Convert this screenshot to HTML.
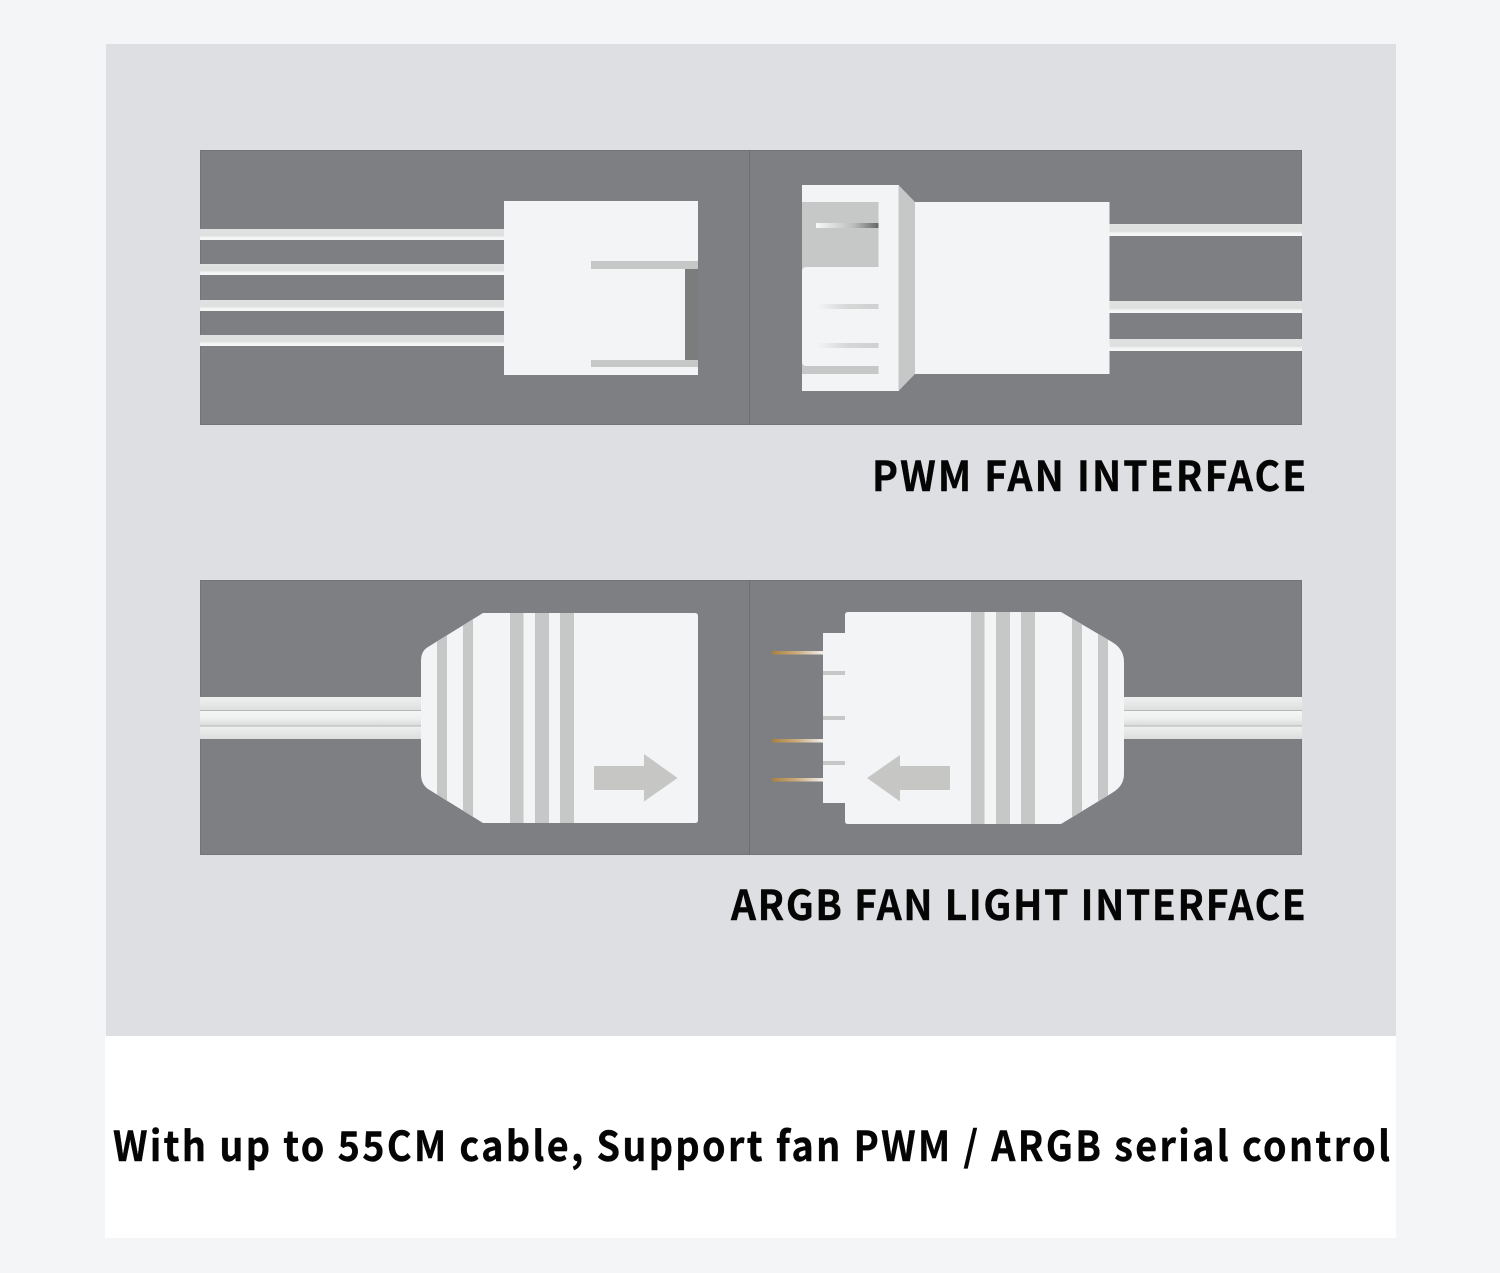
<!DOCTYPE html>
<html><head><meta charset="utf-8"><style>
html,body{margin:0;padding:0;background:#f4f5f7}
svg{display:block}
text{font-family:"Noto Sans CJK SC","Liberation Sans",sans-serif;font-weight:700;fill:#050505;stroke:#050505;stroke-width:.4}
</style></head><body>
<svg xmlns="http://www.w3.org/2000/svg" width="1500" height="1273" viewBox="0 0 1500 1273">
<defs>
<linearGradient id="wire" x1="0" y1="0" x2="0" y2="1"><stop offset="0" stop-color="#e0e1e1"/><stop offset=".6" stop-color="#dedfdf"/><stop offset=".75" stop-color="#f2f3f3"/><stop offset="1" stop-color="#f6f7f7"/></linearGradient>
<linearGradient id="wire2" x1="0" y1="0" x2="0" y2="1"><stop offset="0" stop-color="#eeefef"/><stop offset=".5" stop-color="#e6e7e7"/><stop offset="1" stop-color="#dcdddd"/></linearGradient>
<linearGradient id="wire3" x1="0" y1="0" x2="0" y2="1"><stop offset="0" stop-color="#f5f6f6"/><stop offset=".5" stop-color="#eeefef"/><stop offset="1" stop-color="#d8d9d9"/></linearGradient>
<linearGradient id="pin" x1="0" y1="0" x2="1" y2="0"><stop offset="0" stop-color="#a9823f"/><stop offset=".45" stop-color="#c9a878"/><stop offset="1" stop-color="#f0eeea"/></linearGradient>
<linearGradient id="pinDark" x1="0" y1="0" x2="1" y2="0"><stop offset="0" stop-color="#f8f8f8"/><stop offset=".6" stop-color="#bdbdbd"/><stop offset="1" stop-color="#666"/></linearGradient>
<linearGradient id="pinLight" x1="0" y1="0" x2="1" y2="0"><stop offset="0" stop-color="#f4f5f7"/><stop offset=".5" stop-color="#d6d7d7"/><stop offset="1" stop-color="#cfd0d0"/></linearGradient>
<clipPath id="bodyL"><path d="M483 613H695Q698 613 698 616V820Q698 823 695 823H483L428 789Q421 784 421 774V661Q421 651 428 647Z"/></clipPath>
<clipPath id="bodyR"><path d="M848 612H1061L1112 642Q1124 649 1124 662V774Q1124 786 1112 793L1061 824H848Q845 824 845 821V615Q845 612 848 612Z"/></clipPath>
</defs>
<rect x="105" y="1036" width="1291" height="202" fill="#fff"/>
<rect x="106" y="44" width="1290" height="992" fill="#dedfe2"/>

<!-- PWM panel -->
<rect x="200.500" y="150.500" width="1101" height="274" fill="#7e7f83" stroke="#737478"/>
<rect x="749" y="150" width="1" height="275" fill="#6d6e71"/>
<g fill="url(#wire)">
<rect x="200" y="229" width="305" height="11"/>
<rect x="200" y="264" width="305" height="11"/>
<rect x="200" y="300" width="305" height="11"/>
<rect x="200" y="335" width="305" height="11"/>
</g>
<rect x="504" y="201" width="194" height="174" fill="#f3f4f6"/>
<rect x="685" y="269" width="13" height="91" fill="#7b7c7c"/>
<rect x="591" y="261" width="107" height="8" fill="#c6c7c7"/>
<rect x="591" y="360" width="107" height="7" fill="#c6c7c7"/>

<g fill="url(#wire)">
<rect x="1109" y="224" width="193" height="12"/>
<rect x="1109" y="301" width="193" height="12"/>
<rect x="1109" y="339" width="193" height="12"/>
</g>
<rect x="802" y="185" width="97" height="206" fill="#f3f4f6"/>
<polygon points="898.5,185 915,202 915,374 898.5,391" fill="#c6c7c7"/>
<rect x="915" y="202" width="194.500" height="172" fill="#f3f4f6"/>
<rect x="802" y="202" width="76.500" height="172" fill="#c6c7c7"/>
<rect x="802" y="267" width="76.500" height="99" rx="4" fill="#f3f4f6"/>
<rect x="812" y="267" width="66.500" height="99" fill="#f3f4f6"/>
<rect x="816" y="223" width="62.500" height="5" fill="url(#pinDark)"/>
<rect x="816" y="304" width="62.500" height="5" fill="url(#pinLight)"/>
<rect x="816" y="343" width="62.500" height="5" fill="url(#pinLight)"/>

<!-- ARGB panel -->
<rect x="200.500" y="580.500" width="1101" height="274" fill="#7e7f83" stroke="#737478"/>
<rect x="749" y="580" width="1" height="275" fill="#6d6e71"/>

<rect x="200" y="697" width="222" height="14" fill="url(#wire2)"/>
<rect x="200" y="711" width="222" height="15" fill="url(#wire3)"/>
<rect x="200" y="726" width="222" height="13" fill="url(#wire2)"/>
<rect x="200" y="710" width="222" height="1" fill="#b5b6b6"/>
<rect x="200" y="725.500" width="222" height="1" fill="#b5b6b6"/>
<path d="M483 613H695Q698 613 698 616V820Q698 823 695 823H483L428 789Q421 784 421 774V661Q421 651 428 647Z" fill="#f3f4f6"/>
<g clip-path="url(#bodyL)" fill="#c6c7c7">
<rect x="437" y="600" width="10" height="240"/>
<rect x="463" y="600" width="10" height="240"/>
<rect x="510" y="600" width="13.500" height="240"/>
<rect x="535" y="600" width="14" height="240"/>
<rect x="560" y="600" width="14" height="240"/>
</g>
<polygon points="594,766 644,766 644,754 677.500,778 644,801.500 644,790 594,790" fill="#c6c7c5"/>

<rect x="1124" y="697" width="178" height="14" fill="url(#wire2)"/>
<rect x="1124" y="711" width="178" height="15" fill="url(#wire3)"/>
<rect x="1124" y="726" width="178" height="13" fill="url(#wire2)"/>
<rect x="1124" y="710" width="178" height="1" fill="#b5b6b6"/>
<rect x="1124" y="725.500" width="178" height="1" fill="#b5b6b6"/>
<g fill="url(#pin)">
<rect x="772" y="651" width="51" height="3.500"/>
<rect x="772" y="739" width="51" height="3.500"/>
<rect x="772" y="778" width="51" height="3.500"/>
</g>
<rect x="823" y="633" width="23" height="170" fill="#f3f4f6"/>
<rect x="823" y="671" width="22" height="4" fill="#c6c7c7"/>
<rect x="823" y="716" width="22" height="4" fill="#c6c7c7"/>
<rect x="823" y="761" width="22" height="4" fill="#c6c7c7"/>
<path d="M848 612H1061L1112 642Q1124 649 1124 662V774Q1124 786 1112 793L1061 824H848Q845 824 845 821V615Q845 612 848 612Z" fill="#f3f4f6"/>
<g clip-path="url(#bodyR)" fill="#c6c7c7">
<rect x="971" y="600" width="13.500" height="240"/>
<rect x="996" y="600" width="14" height="240"/>
<rect x="1021" y="600" width="14" height="240"/>
<rect x="1072" y="600" width="10" height="240"/>
<rect x="1098" y="600" width="10" height="240"/>
</g>
<polygon points="950,766 900,766 900,755 867,778 900,801.500 900,790 950,790" fill="#c6c7c5"/>

<text transform="translate(872 491) scale(.95 1)" font-size="41" textLength="457" lengthAdjust="spacing">PWM FAN INTERFACE</text>
<text transform="translate(731 920) scale(.95 1)" font-size="41" textLength="605" lengthAdjust="spacing">ARGB FAN LIGHT INTERFACE</text>
<text transform="translate(113 1161) scale(.92 1)" font-size="41" textLength="1388" lengthAdjust="spacing">With up to 55CM cable, Support fan PWM / ARGB serial control</text>
</svg>
</body></html>
